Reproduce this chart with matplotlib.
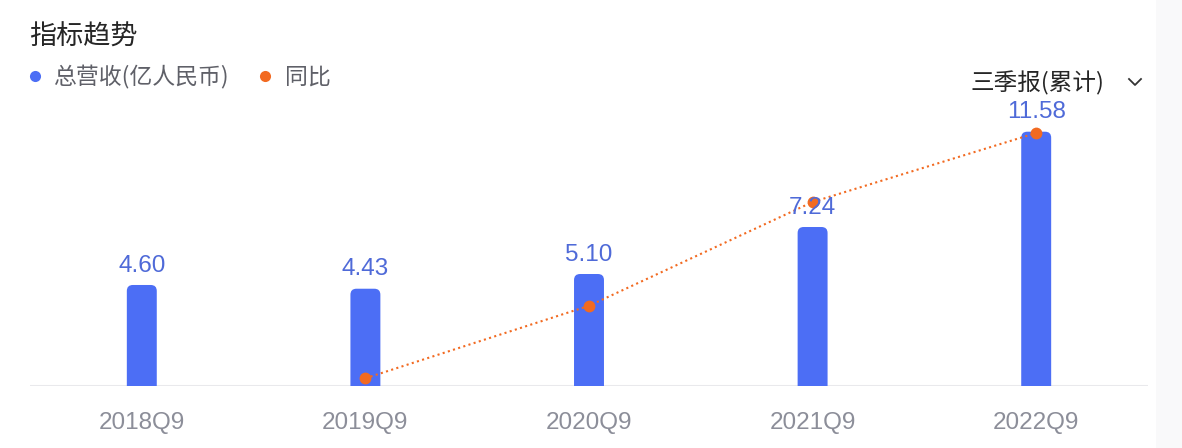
import matplotlib
matplotlib.use("Agg")
import matplotlib.pyplot as plt
from matplotlib.patches import FancyBboxPatch, Rectangle
from matplotlib.lines import Line2D

# ---- data ----
categories = ["2018Q9", "2019Q9", "2020Q9", "2021Q9", "2022Q9"]
revenue = [4.60, 4.43, 5.10, 7.24, 11.58]
revenue_labels = ["4.60", "4.43", "5.10", "7.24", "11.58"]
yoy_categories = ["2019Q9", "2020Q9", "2021Q9", "2022Q9"]
yoy = [-3.7, 15.1, 42.0, 59.9]

title = "指标趋势"
legend_names = ["总营收(亿人民币)", "同比"]
period_label = "三季报(累计)"

BLUE = "#4c6ef5"
LABEL_BLUE = "#4f6ad8"
ORANGE = "#f26a21"
CJK = ["Noto Sans CJK SC", "DejaVu Sans"]
NUM = ["Liberation Sans", "Noto Sans CJK SC"]

W, H = 1182, 448
fig = plt.figure(figsize=(W / 100, H / 100), dpi=100)
fig.patch.set_facecolor("white")

# faint right strip
fig.patches.append(Rectangle((1156 / W, 0), 26 / W, 1, transform=fig.transFigure,
                             facecolor="#f9f9fa", edgecolor="none", zorder=0))

rect = [30 / W, (H - 386) / H, 1118 / W, 286 / H]
ax = fig.add_axes(rect)
ax.patch.set_visible(False)
x = list(range(len(categories)))
ax.set_xlim(-0.5, len(categories) - 0.5)
ax.set_ylim(0, 286 / 21.96)

bars = ax.bar(x, revenue, width=30 / 224, color=BLUE, zorder=2)
# rounded-top bars built from the bar geometry
r_px = 6
ypp = (ax.get_ylim()[1] - ax.get_ylim()[0]) / 286
xpp = (ax.get_xlim()[1] - ax.get_xlim()[0]) / 1118
for b in bars:
    bx, by, bw, bh = b.get_x(), b.get_y(), b.get_width(), b.get_height()
    b.set_visible(False)
    ax.add_patch(FancyBboxPatch((bx, by - 1), bw, bh + 1,
                                boxstyle=f"round,pad=0,rounding_size={r_px * xpp}",
                                mutation_aspect=ypp / xpp,
                                facecolor=BLUE, edgecolor="none", zorder=2))

ax.axhline(0, color="#e9e9ec", lw=1.5, zorder=1)
ax.set_xticks(x)
ax.set_xticklabels(categories, family=NUM, fontsize=17.5, color="#8c8e99")
ax.tick_params(axis="x", length=0, pad=19)
ax.set_yticks([])
for s in ax.spines.values():
    s.set_visible(False)

# line + value labels on an overlay axes so they sit above the bars
ax2 = ax.twinx()
ax2.set_zorder(ax.get_zorder() + 1)
ax2.patch.set_visible(False)
ax2.set_ylim(-5.70, 68.45)
yx = [categories.index(c) for c in yoy_categories]
ax2.plot(yx, yoy, color=ORANGE, lw=1.5, ls=(0, (1, 1.6)), marker="o",
         markersize=8.5, markeredgewidth=0, zorder=3)
ax2.set_yticks([])
for s in ax2.spines.values():
    s.set_visible(False)
for xi, v, lab in zip(x, revenue, revenue_labels):
    ax2.annotate(lab, xy=(xi, v), xycoords=ax.transData, xytext=(0, 6),
                 textcoords="offset points", ha="center", va="bottom",
                 fontsize=17.5, color=LABEL_BLUE, family=NUM, zorder=6)

# title and legend
fig.text(29 / W, 1 - 37 / H, title, family=CJK, fontsize=19.5, color="#262626",
         ha="left", va="center")
fig.lines.append(Line2D([35 / W], [1 - 76 / H], marker="o", color=BLUE,
                        markersize=8, markeredgewidth=0, transform=fig.transFigure))
fig.text(53 / W, 1 - 77 / H, legend_names[0], family=CJK, fontsize=16.5,
         color="#5f6068", ha="left", va="center")
fig.lines.append(Line2D([265 / W], [1 - 76 / H], marker="o", color=ORANGE,
                        markersize=8, markeredgewidth=0, transform=fig.transFigure))
fig.text(285 / W, 1 - 77 / H, legend_names[1], family=CJK, fontsize=16.5,
         color="#5f6068", ha="left", va="center")

fig.text(1104 / W, 1 - 83 / H, period_label, family=CJK, fontsize=17,
         color="#262626", ha="right", va="center")
fig.lines.append(Line2D([1129 / W, 1135 / W, 1141 / W],
                        [1 - 79 / H, 1 - 85 / H, 1 - 79 / H],
                        color="#333333", lw=1.3, transform=fig.transFigure))

fig.savefig("out.png", dpi=100, facecolor="white")
